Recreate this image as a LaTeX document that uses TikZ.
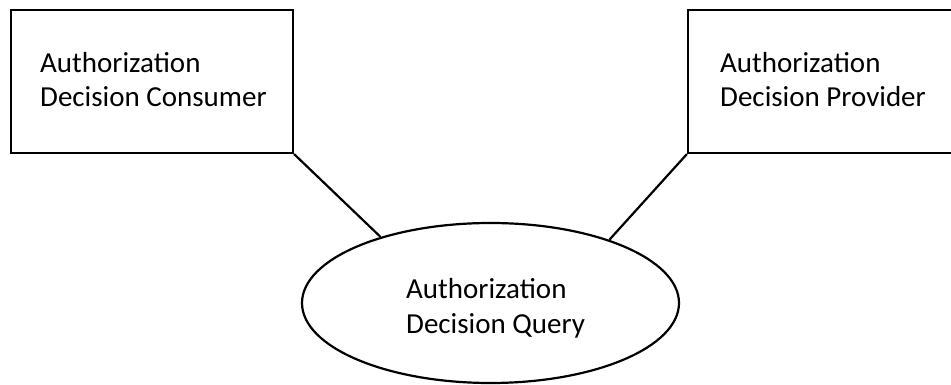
\documentclass[tikz,border=0pt]{standalone}
\usepackage{fontspec}
\setmainfont{Carlito}
\usetikzlibrary{shapes.geometric}
\begin{document}
\begin{tikzpicture}[x=1pt,y=-1pt,
  boxshape/.style={draw, line width=2.2pt, rectangle, inner sep=0pt, minimum width=282pt, minimum height=143pt},
  ellshape/.style={draw, line width=2.2pt, ellipse, inner sep=0pt, minimum width=377pt, minimum height=160pt},
  lbl/.style={anchor=base west, inner sep=0pt, font=\fontsize{29}{34.5}\selectfont},
  conn/.style={line width=2.2pt}]
\useasboundingbox (0,0) rectangle (951,385);
\node[boxshape] (cons) at (152,81.5) {};
\node[boxshape] (prov) at (829,81.5) {};
\node[ellshape] (query) at (490.5,303) {};
\node[lbl] (c1) at (40,73) {Authorization};
\node[lbl] (c2) at (40,107) {Decision Consumer};
\node[lbl] (p1) at (720,73) {Authorization};
\node[lbl] (p2) at (720,107) {Decision Provider};
\node[lbl] (q1) at (406,298) {Authorization};
\node[lbl] (q2) at (406,333) {Decision Query};
\draw[conn] (cons.south east) -- (query.149.5);
\draw[conn] (prov.south west) -- (query.28.6);
\end{tikzpicture}
\end{document}
